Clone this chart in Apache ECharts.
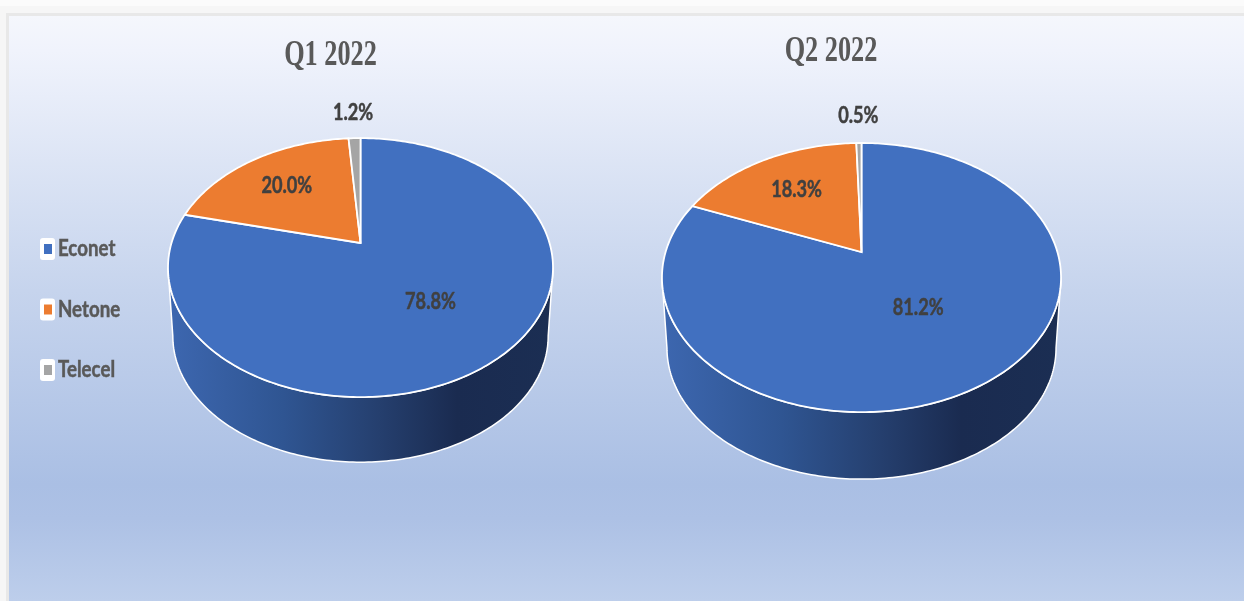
<!DOCTYPE html>
<html>
<head>
<meta charset="utf-8">
<title>Q1 vs Q2 2022</title>
<style>
  html, body { margin: 0; padding: 0; background: #f6f6f6; }
  #chart { width: 1244px; height: 601px; }
</style>
<script src="https://cdn.jsdelivr.net/npm/echarts@6/dist/echarts.min.js"></script>
</head>
<body>
<div id="chart"></div>
<script>
const categories = ['Econet', 'Netone', 'Telecel'];
const q1Shares = [78.8, 20.0, 1.2];
const q2Shares = [81.2, 18.3, 0.5];
const sliceColors = ['#4170c0', '#ec7c30', '#a5a5a5'];

// tilt of the pie, front edge closer to the viewer
const PERSPECTIVE = 0.19;

const q1Pie = { title: 'Q1 2022', cx: 360.5, cy: 243, rx: 189, ry: 124.8, depth: 69, titleX: 330.5, titleY: 56, labelRadius: [0.55, 0.66, 1.3] };
const q2Pie = { title: 'Q2 2022', cx: 861.5, cy: 252, rx: 195.9, ry: 129.7, depth: 71, titleX: 831, titleY: 52, labelRadius: [0.48, 0.64, 1.31] };

function project(pie, angle, radius) {
  const u = radius * Math.sin(angle);
  const v = radius * Math.cos(angle);
  const d = 1 + PERSPECTIVE * v;
  return [pie.cx + pie.rx * u / d, pie.cy - pie.ry * v / d];
}

function arcPoints(from, to, fn) {
  const steps = Math.max(2, Math.ceil(Math.abs(to - from) * 60));
  const pts = [];
  for (let i = 0; i <= steps; i++) {
    pts.push(fn(from + (to - from) * i / steps));
  }
  return pts;
}

function sideGradient() {
  return new echarts.graphic.LinearGradient(0, 0, 1, 0, [
    { offset: 0, color: '#3d67b0' },
    { offset: 0.3, color: '#2f5592' },
    { offset: 0.55, color: '#253f6e' },
    { offset: 0.75, color: '#1a2b50' },
    { offset: 1, color: '#1b2e53' }
  ]);
}

function narrowText(text, x, y, font, fill, scaleX) {
  return {
    type: 'text',
    x: x,
    y: y,
    scaleX: scaleX,
    z2: 10,
    silent: true,
    style: { text: text, x: 0, y: 0, font: font, fill: fill, stroke: fill, lineWidth: 0.5, align: 'center', verticalAlign: 'middle' }
  };
}

function renderSlice(pie, shares) {
  return function (params, api) {
    const i = params.dataIndex;
    const value = api.value(0);
    const before = shares.slice(0, i).reduce((a, b) => a + b, 0);
    const start = before / 100 * Math.PI * 2;
    const end = (before + value) / 100 * Math.PI * 2;
    const children = [];

    // outer wall, only where the slice faces the viewer
    const frontStart = Math.acos(-PERSPECTIVE);
    const frontEnd = Math.PI * 2 - frontStart;
    const wallFrom = Math.max(start, frontStart);
    const wallTo = Math.min(end, frontEnd);
    if (wallTo > wallFrom) {
      const upper = arcPoints(wallFrom, wallTo, a => project(pie, a, 1));
      const lower = upper.map(p => [
        pie.cx + (p[0] - pie.cx) * 0.975,
        pie.cy + (p[1] - pie.cy) * 0.975 + pie.depth
      ]).reverse();
      children.push({
        type: 'polygon',
        shape: { points: upper.concat(lower) },
        style: { fill: sideGradient(), stroke: '#ffffff', lineWidth: 1.5 }
      });
    }

    // top face
    const top = arcPoints(start, end, a => project(pie, a, 1));
    top.unshift([pie.cx, pie.cy]);
    children.push({
      type: 'polygon',
      z2: 2,
      shape: { points: top },
      style: { fill: sliceColors[i], stroke: '#ffffff', lineWidth: 1.8, lineJoin: 'miter' }
    });

    const labelAt = project(pie, (start + end) / 2, pie.labelRadius[i]);
    children.push(narrowText(value.toFixed(1) + '%', labelAt[0], labelAt[1], 'bold 23px Lato', '#404040', 0.79));

    return { type: 'group', children: children };
  };
}

function pieSeries(pie, shares) {
  return {
    type: 'custom',
    name: pie.title,
    coordinateSystem: 'none',
    silent: true,
    animation: false,
    clip: false,
    z: 2,
    data: shares.map(v => [v]),
    renderItem: renderSlice(pie, shares)
  };
}

function legendGraphics() {
  const out = [];
  categories.forEach((name, i) => {
    const y = 249 + i * 60.5;
    out.push({
      type: 'rect', z: 5, silent: true,
      shape: { x: 40, y: y - 11, width: 15, height: 22, r: 3 },
      style: { fill: '#ffffff' }
    });
    out.push({
      type: 'rect', z: 6, silent: true,
      shape: { x: 44, y: y - 5, width: 8, height: 10 },
      style: { fill: sliceColors[i] }
    });
    out.push({
      type: 'text', z: 6, silent: true,
      x: 58, y: y, scaleX: 0.85,
      style: { text: name, x: 0, y: 0, font: 'bold 22px Lato', fill: '#595959', stroke: '#595959', lineWidth: 0.5, align: 'left', verticalAlign: 'middle' }
    });
  });
  return out;
}

function titleGraphic(pie) {
  return {
    type: 'text', z: 6, silent: true,
    x: pie.titleX, y: pie.titleY, scaleX: 0.73,
    style: { text: pie.title, x: 0, y: 0, font: 'bold 36px "Liberation Serif"', fill: '#595959', align: 'center', verticalAlign: 'middle' }
  };
}

const chart = echarts.init(document.getElementById('chart'), null, { renderer: 'canvas' });

chart.setOption({
  animation: false,
  backgroundColor: '#f6f6f6',
  tooltip: { show: false },
  graphic: [
    { type: 'rect', z: 0, silent: true, shape: { x: 0, y: 0, width: 1244, height: 6 }, style: { fill: '#fbfbfb' } },
    { type: 'rect', z: 0, silent: true, shape: { x: 6, y: 13, width: 1238, height: 3 }, style: { fill: '#e8e8e8' } },
    { type: 'rect', z: 0, silent: true, shape: { x: 6, y: 13, width: 3, height: 588 }, style: { fill: '#e8e8e8' } },
    {
      type: 'rect', z: 1, silent: true,
      shape: { x: 9, y: 16, width: 1235, height: 585 },
      style: {
        fill: new echarts.graphic.LinearGradient(0, 0, 0, 1, [
          { offset: 0, color: '#f5f7fc' },
          { offset: 0.06, color: '#f0f3fc' },
          { offset: 0.47, color: '#c6d4ed' },
          { offset: 0.8, color: '#aabfe4' },
          { offset: 0.86, color: '#adc1e5' },
          { offset: 1, color: '#bdceeb' }
        ])
      }
    },
    titleGraphic(q1Pie),
    titleGraphic(q2Pie)
  ].concat(legendGraphics()),
  series: [pieSeries(q1Pie, q1Shares), pieSeries(q2Pie, q2Shares)]
});
</script>
</body>
</html>
